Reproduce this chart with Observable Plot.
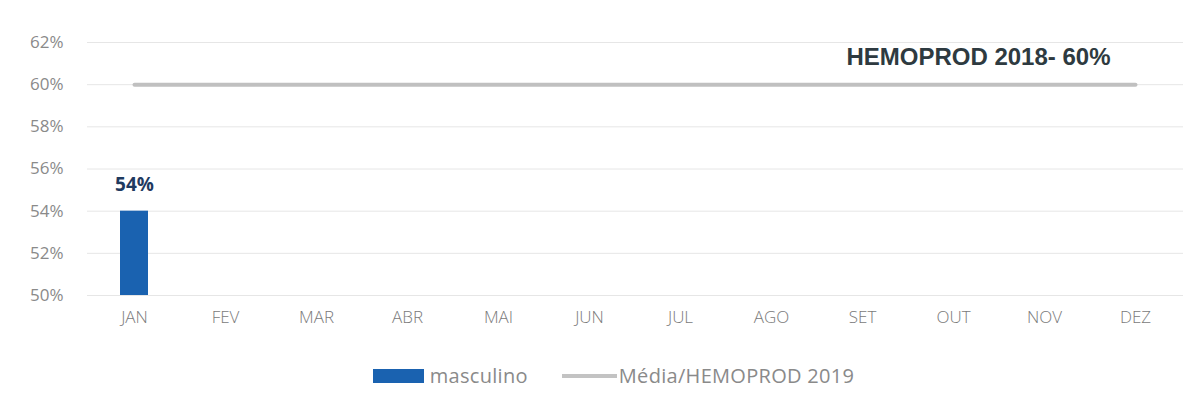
<!DOCTYPE html>
<html>
<head>
<meta charset="utf-8">
<script src="https://cdn.jsdelivr.net/npm/d3@7"></script>
<script src="https://cdn.jsdelivr.net/npm/@observablehq/plot@0.6"></script>
<style>
  html, body { margin: 0; padding: 0; background: #fff; }
  #wrap { width: 1202px; height: 413px; position: relative; font-family: "Open Sans", sans-serif; }
  #legend { position: absolute; top: 362px; left: 0; width: 1202px; display: flex; justify-content: center; align-items: center; font-size: 20px; color: #8a8a8a; gap: 34px; padding-left: 25px; box-sizing: border-box; letter-spacing: 0.3px; }
  .item { display: flex; align-items: center; gap: 6px; }
  .item2 { gap: 2px; }
  .sw-bar { width: 51px; height: 14px; background: #1a62b0; }
  .sw-line { width: 55px; height: 4px; background: #c3c3c3; }
</style>
</head>
<body>
<div id="wrap">
  <div id="chart"></div>
  <div id="legend">
    <div class="item"><span class="sw-bar"></span><span>masculino</span></div>
    <div class="item item2"><span class="sw-line"></span><span>Média/HEMOPROD 2019</span></div>
  </div>
</div>
<script>
const months = ["JAN","FEV","MAR","ABR","MAI","JUN","JUL","AGO","SET","OUT","NOV","DEZ"];
const masculino = [54, null, null, null, null, null, null, null, null, null, null, null];
const media2019 = [60, 60, 60, 60, 60, 60, 60, 60, 60, 60, 60, 60];
const yTicks = [50, 52, 54, 56, 58, 60, 62];
const annotation = "HEMOPROD 2018- 60%";

const bars = months.map((m, i) => ({month: m, value: masculino[i]})).filter(d => d.value != null);
const lineData = months.map((m, i) => ({month: m, value: media2019[i]}));

const chart = Plot.plot({
  width: 1202,
  height: 345,
  marginTop: 42,
  marginBottom: 50,
  marginLeft: 87,
  marginRight: 19,
  style: {fontFamily: "Open Sans, sans-serif", fontSize: "16px", color: "#8c8c8c", background: "transparent"},
  x: {domain: months, paddingInner: 0.69, paddingOuter: 0.345, label: null},
  y: {domain: [50, 62], label: null},
  marks: [
    Plot.gridY(yTicks, {stroke: "#e6e6e6", strokeOpacity: 1, strokeWidth: 1}),
    Plot.barY(bars, {x: "month", y1: 50, y2: "value", fill: "#1a62b0"}),
    Plot.lineY(lineData, {x: "month", y: "value", stroke: "#c0c0c0", strokeWidth: 4}),
    Plot.text(bars, {x: "month", y: "value", text: d => d.value + "%", dy: -26, fill: "#1f3a5f", fontWeight: "bold", fontSize: 19}),
    Plot.text([annotation], {x: () => "DEZ", y: () => 61.3, text: d => d, textAnchor: "end", dx: -25, fill: "#2e3a40", fontWeight: "bold", fontSize: 24, fontFamily: "Liberation Sans, Arial, sans-serif"}),
    Plot.axisX({tickSize: 0, tickPadding: 15, fontSize: 17, fontWeight: 300, fill: "#7a7a7a", style: "letter-spacing:1px", label: null}),
    Plot.axisY({ticks: yTicks, tickFormat: d => d + "%", tickSize: 0, tickPadding: 24, fontSize: 17, fill: "#8a8a8a", style: "letter-spacing:1.5px", label: null})
  ]
});
document.getElementById("chart").appendChild(chart);
</script>
</body>
</html>
